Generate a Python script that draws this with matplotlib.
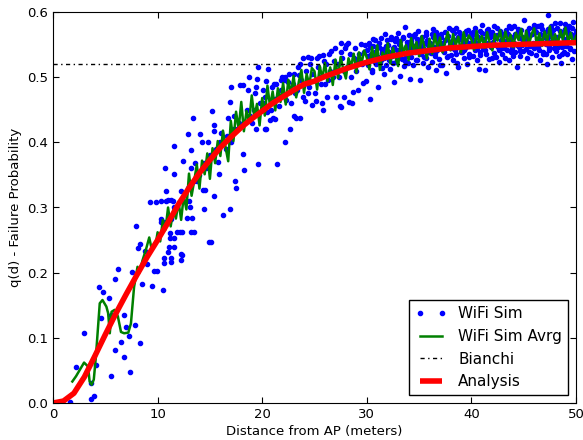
import matplotlib
matplotlib.use('Agg')
import matplotlib.pyplot as plt
import numpy as np

# WiFi simulation samples (distance, failure probability)
sim_d_near = [1.66, 2.2, 2.97, 3.64, 3.67, 3.96, 4.15, 4.44, 4.56, 4.76, 5.33, 5.55,
              5.75, 5.55, 5.94, 5.94, 6.2, 6.5, 6.74, 6.8, 6.99, 7.25, 7.34, 7.6,
              7.88, 7.98, 8.14, 8.27, 8.36, 8.5, 8.77, 9.0, 9.32, 9.45, 9.64, 9.8, 9.9]
sim_q_near = [0.002, 0.055, 0.108, 0.031, 0.006, 0.010, 0.058, 0.178, 0.131, 0.170, 0.161, 0.135,
              0.135, 0.041, 0.191, 0.081, 0.206, 0.094, 0.071, 0.135, 0.117, 0.103, 0.048, 0.201,
              0.119, 0.272, 0.238, 0.092, 0.244, 0.182, 0.234, 0.213, 0.309, 0.180, 0.203, 0.309, 0.203]

sim_d_b = [10.28, 10.3, 10.37, 10.5, 10.6, 10.6, 10.6, 10.75, 10.76, 10.8, 11.0, 11.0, 11.1, 11.17,
           11.2, 11.24, 11.3, 11.3, 11.3, 11.43, 11.56, 11.56, 11.56, 11.6, 11.6, 11.9, 12.1, 12.2,
           12.2, 12.2, 12.3, 12.3, 12.4, 12.6, 12.8, 12.87, 12.9, 13.0, 13.1, 13.2, 13.2, 13.2,
           13.3, 13.4, 13.44, 13.5, 13.6, 13.8, 14.0, 14.1, 14.2, 14.3, 14.4, 14.4, 14.5, 14.6,
           14.8, 14.94, 15.0, 15.1, 15.17, 15.4, 15.4, 15.4, 15.6, 15.8, 15.9, 16.0, 16.1, 16.3,
           16.5, 16.6, 16.7, 16.9, 16.9, 17.0, 17.05, 17.3, 17.3, 17.4, 17.45, 17.6, 17.8, 17.9,
           18.2, 18.2, 18.3, 18.3, 18.5, 18.6, 18.74, 18.8, 19.0, 19.2, 19.3, 19.4, 19.4, 19.5,
           19.6, 19.6, 19.8]
sim_q_b = [0.277, 0.282, 0.310, 0.173, 0.222, 0.215, 0.278, 0.360, 0.310, 0.326, 0.232, 0.312, 0.240, 0.253,
           0.261, 0.283, 0.312, 0.222, 0.216, 0.310, 0.300, 0.395, 0.351, 0.253, 0.239, 0.262, 0.262, 0.325,
           0.228, 0.220, 0.227, 0.262, 0.371, 0.320, 0.284, 0.413, 0.330, 0.310, 0.301, 0.360, 0.388, 0.262,
           0.284, 0.437, 0.262, 0.340, 0.368, 0.340, 0.350, 0.413, 0.400, 0.327, 0.368, 0.297, 0.327, 0.360,
           0.401, 0.247, 0.380, 0.247, 0.448, 0.426, 0.417, 0.318, 0.390, 0.370, 0.352, 0.400, 0.415, 0.289,
           0.390, 0.410, 0.437, 0.462, 0.298, 0.400, 0.485, 0.441, 0.420, 0.340, 0.330, 0.420, 0.430, 0.488,
           0.488, 0.382, 0.357, 0.430, 0.450, 0.480, 0.501, 0.440, 0.430, 0.450, 0.475, 0.485, 0.420, 0.497,
           0.516, 0.367, 0.460]

sim_d_mid = [20.1, 20.2, 20.3, 20.4, 20.4, 20.5, 20.6, 20.8, 21.0, 21.1, 21.2, 21.2, 21.4, 21.5,
             21.8, 21.8, 22.1, 22.2, 22.2, 22.2, 22.5, 22.7, 22.8, 23.0, 23.0, 23.2, 23.3, 23.5,
             23.6, 23.6, 23.9, 23.9, 24.0, 24.1, 24.4, 24.4, 24.6, 24.8, 24.8, 25.0, 25.1, 25.2,
             25.4, 25.5, 25.7, 25.8, 25.8, 26.0, 26.2, 26.4, 26.5, 26.8, 27.0, 27.1, 27.2, 27.4,
             27.5, 27.5, 27.5, 27.8, 27.8, 28.0, 28.2, 28.3, 28.5, 28.6, 28.7, 28.8, 29.0, 29.2,
             29.3, 29.4, 29.5, 29.6, 29.8, 29.9,
             20.3, 20.7, 20.9, 21.3, 21.6, 21.9, 22.3, 22.6, 22.9, 23.1, 23.4, 23.7, 24.2, 24.5,
             24.7, 25.3, 25.6, 25.9, 26.1, 26.3, 26.6, 26.9, 27.3, 27.6, 27.9, 28.1, 28.4, 28.9,
             29.1, 29.7]
sim_q_mid = [0.480, 0.460, 0.420, 0.494, 0.420, 0.446, 0.512, 0.450, 0.438, 0.489, 0.466, 0.436, 0.367, 0.470,
             0.496, 0.481, 0.473, 0.495, 0.400, 0.500, 0.493, 0.420, 0.460, 0.505, 0.441, 0.438, 0.480, 0.503,
             0.520, 0.437, 0.529, 0.469, 0.490, 0.464, 0.531, 0.476, 0.520, 0.457, 0.505, 0.476, 0.463, 0.530,
             0.532, 0.500, 0.461, 0.534, 0.449, 0.490, 0.469, 0.535, 0.510, 0.500, 0.545, 0.469, 0.520, 0.455,
             0.552, 0.538, 0.454, 0.469, 0.510, 0.549, 0.552, 0.462, 0.500, 0.461, 0.477, 0.530, 0.510, 0.481,
             0.535, 0.551, 0.520, 0.491, 0.550, 0.494,
             0.470, 0.435, 0.485, 0.490, 0.455, 0.500, 0.465, 0.505, 0.490, 0.475, 0.515, 0.495, 0.510, 0.485,
             0.530, 0.515, 0.490, 0.525, 0.520, 0.495, 0.540, 0.525, 0.500, 0.530, 0.545, 0.515, 0.535, 0.545,
             0.525, 0.538]

sim_d_far = [
    30.05, 30.12, 30.2, 30.28, 30.35, 30.41, 30.5, 30.58, 30.66, 30.74, 30.83, 30.91,
    31.03, 31.1, 31.2, 31.27, 31.33, 31.44, 31.5, 31.59, 31.67, 31.75, 31.86, 31.93,
    32.02, 32.1, 32.17, 32.26, 32.35, 32.42, 32.51, 32.6, 32.68, 32.77, 32.85, 32.94,
    33.04, 33.11, 33.2, 33.29, 33.37, 33.45, 33.52, 33.61, 33.7, 33.76, 33.85, 33.95,
    34.02, 34.09, 34.18, 34.27, 34.36, 34.43, 34.52, 34.6, 34.69, 34.77, 34.86, 34.93,
    35.05, 35.13, 35.2, 35.3, 35.38, 35.45, 35.55, 35.62, 35.7, 35.79, 35.88, 35.96,
    36.03, 36.1, 36.2, 36.27, 36.35, 36.44, 36.52, 36.6, 36.66, 36.75, 36.84, 36.92,
    37.02, 37.11, 37.18, 37.25, 37.34, 37.43, 37.5, 37.58, 37.66, 37.75, 37.83, 37.92,
    38.04, 38.12, 38.19, 38.28, 38.36, 38.44, 38.53, 38.61, 38.68, 38.76, 38.85, 38.94,
    39.02, 39.1, 39.19, 39.27, 39.35, 39.42, 39.51, 39.6, 39.68, 39.77, 39.84, 39.93,
    40.03, 40.11, 40.2, 40.29, 40.37, 40.45, 40.53, 40.6, 40.7, 40.78, 40.86, 40.95,
    41.02, 41.1, 41.18, 41.26, 41.35, 41.42, 41.5, 41.58, 41.67, 41.75, 41.84, 41.93,
    42.05, 42.12, 42.2, 42.28, 42.36, 42.45, 42.53, 42.61, 42.7, 42.78, 42.87, 42.94,
    43.02, 43.09, 43.18, 43.27, 43.34, 43.43, 43.51, 43.6, 43.68, 43.76, 43.85, 43.93,
    44.03, 44.11, 44.2, 44.28, 44.35, 44.43, 44.52, 44.6, 44.69, 44.77, 44.85, 44.94,
    45.02, 45.1, 45.18, 45.27, 45.35, 45.44, 45.52, 45.6, 45.69, 45.78, 45.86, 45.94,
    46.03, 46.11, 46.19, 46.27, 46.36, 46.45, 46.53, 46.6, 46.68, 46.77, 46.85, 46.93,
    47.02, 47.1, 47.19, 47.27, 47.35, 47.43, 47.5, 47.58, 47.67, 47.75, 47.84, 47.93,
    48.02, 48.1, 48.18, 48.27, 48.35, 48.43, 48.52, 48.6, 48.68, 48.76, 48.85, 48.94,
    49.03, 49.1, 49.18, 49.26, 49.35, 49.42, 49.5, 49.59, 49.67, 49.76, 49.84, 49.93]
sim_q_far = [
    0.541, 0.518, 0.552, 0.529, 0.467, 0.536, 0.511, 0.548, 0.525, 0.539, 0.557, 0.520,
    0.531, 0.485, 0.546, 0.522, 0.560, 0.537, 0.514, 0.543, 0.529, 0.566, 0.519, 0.540,
    0.549, 0.527, 0.538, 0.512, 0.562, 0.533, 0.545, 0.492, 0.555, 0.524, 0.541, 0.568,
    0.536, 0.551, 0.502, 0.543, 0.528, 0.560, 0.517, 0.577, 0.547, 0.533, 0.554, 0.522,
    0.544, 0.497, 0.556, 0.531, 0.549, 0.518, 0.565, 0.538, 0.527, 0.558, 0.542, 0.571,
    0.496, 0.548, 0.535, 0.562, 0.521, 0.553, 0.540, 0.569, 0.529, 0.557, 0.515, 0.545,
    0.552, 0.537, 0.566, 0.524, 0.574, 0.546, 0.533, 0.511, 0.558, 0.541, 0.563, 0.528,
    0.547, 0.561, 0.519, 0.553, 0.538, 0.570, 0.544, 0.506, 0.559, 0.532, 0.575, 0.549,
    0.534, 0.556, 0.572, 0.527, 0.550, 0.541, 0.575, 0.522, 0.561, 0.515, 0.546, 0.558,
    0.563, 0.539, 0.551, 0.529, 0.567, 0.545, 0.556, 0.520, 0.573, 0.536, 0.552, 0.561,
    0.548, 0.569, 0.533, 0.557, 0.542, 0.564, 0.526, 0.553, 0.513, 0.571, 0.539, 0.560,
    0.580, 0.544, 0.558, 0.511, 0.566, 0.535, 0.551, 0.574, 0.528, 0.562, 0.547, 0.569,
    0.554, 0.537, 0.579, 0.560, 0.531, 0.565, 0.546, 0.524, 0.571, 0.543, 0.557, 0.536,
    0.563, 0.548, 0.530, 0.572, 0.555, 0.541, 0.567, 0.527, 0.559, 0.576, 0.545, 0.533,
    0.578, 0.552, 0.538, 0.564, 0.516, 0.570, 0.546, 0.560, 0.532, 0.573, 0.549, 0.540,
    0.588, 0.556, 0.543, 0.568, 0.529, 0.562, 0.575, 0.548, 0.537, 0.566, 0.553, 0.580,
    0.545, 0.571, 0.534, 0.559, 0.578, 0.541, 0.566, 0.527, 0.553, 0.574, 0.539, 0.562,
    0.569, 0.536, 0.558, 0.520, 0.595, 0.547, 0.563, 0.578, 0.531, 0.555, 0.572, 0.544,
    0.557, 0.540, 0.576, 0.551, 0.533, 0.583, 0.522, 0.565, 0.546, 0.570, 0.538, 0.581,
    0.548, 0.573, 0.535, 0.561, 0.579, 0.543, 0.567, 0.528, 0.556, 0.585, 0.540, 0.565]

sim_d_far2 = [
    30.16, 30.33, 30.47, 30.62, 30.79, 30.97, 31.15, 31.31, 31.48, 31.63, 31.8, 31.97,
    32.14, 32.3, 32.46, 32.64, 32.81, 32.98, 33.16, 33.32, 33.49, 33.65, 33.82, 33.99,
    34.13, 34.31, 34.47, 34.64, 34.81, 34.97, 35.16, 35.34, 35.5, 35.66, 35.83, 35.99,
    36.15, 36.31, 36.48, 36.63, 36.8, 36.97, 37.14, 37.3, 37.46, 37.62, 37.79, 37.96,
    38.16, 38.32, 38.49, 38.65, 38.81, 38.98, 39.14, 39.31, 39.47, 39.64, 39.8, 39.97,
    40.15, 40.33, 40.49, 40.65, 40.82, 40.99, 41.14, 41.3, 41.46, 41.63, 41.8, 41.97,
    42.16, 42.32, 42.49, 42.66, 42.83, 42.99, 43.13, 43.3, 43.47, 43.64, 43.81, 43.98,
    44.15, 44.32, 44.48, 44.65, 44.81, 44.98, 45.14, 45.31, 45.48, 45.64, 45.82, 45.98,
    46.16, 46.32, 46.49, 46.64, 46.81, 46.98, 47.14, 47.31, 47.46, 47.63, 47.8, 47.97,
    48.15, 48.31, 48.48, 48.64, 48.81, 48.98, 49.14, 49.3, 49.47, 49.63, 49.8, 49.97]
sim_q_far2 = [
    0.533, 0.547, 0.508, 0.558, 0.531, 0.544, 0.552, 0.526, 0.541, 0.505, 0.548, 0.557,
    0.536, 0.558, 0.521, 0.547, 0.560, 0.531, 0.556, 0.539, 0.562, 0.525, 0.549, 0.565,
    0.535, 0.561, 0.545, 0.567, 0.526, 0.553, 0.559, 0.544, 0.531, 0.564, 0.550, 0.538,
    0.545, 0.561, 0.537, 0.569, 0.552, 0.519, 0.566, 0.542, 0.557, 0.531, 0.563, 0.554,
    0.545, 0.568, 0.536, 0.559, 0.570, 0.539, 0.557, 0.542, 0.571, 0.548, 0.531, 0.566,
    0.552, 0.575, 0.545, 0.562, 0.534, 0.568, 0.558, 0.541, 0.572, 0.552, 0.566, 0.530,
    0.563, 0.549, 0.575, 0.541, 0.568, 0.552, 0.544, 0.566, 0.552, 0.579, 0.538, 0.561,
    0.566, 0.549, 0.574, 0.540, 0.561, 0.555, 0.552, 0.571, 0.539, 0.564, 0.548, 0.576,
    0.569, 0.546, 0.558, 0.580, 0.535, 0.561, 0.551, 0.574, 0.541, 0.566, 0.556, 0.583,
    0.562, 0.547, 0.571, 0.536, 0.559, 0.574, 0.553, 0.568, 0.545, 0.576, 0.558, 0.571]

# averaged simulation curve
avg_d_near = [1.85, 2.2, 2.97, 3.35, 3.5, 3.7, 3.9, 4.1, 4.31, 4.47, 4.73, 5.1, 5.27, 5.43, 5.6,
              5.9, 6.2, 6.5, 6.8, 7.2, 7.45, 7.75, 8.08, 8.24, 8.56, 8.88, 9.2, 9.45, 9.83]
avg_q_near = [0.033, 0.041, 0.062, 0.056, 0.033, 0.028, 0.036, 0.071, 0.117, 0.153, 0.158, 0.148, 0.138, 0.107, 0.140,
              0.143, 0.133, 0.109, 0.107, 0.108, 0.122, 0.178, 0.209, 0.199, 0.219, 0.235, 0.254, 0.235, 0.245]
avg_q_far = [
    0.262, 0.248, 0.281, 0.266, 0.300, 0.271, 0.296, 0.283, 0.309, 0.281, 0.318, 0.297,
    0.352, 0.318, 0.341, 0.366, 0.329, 0.372, 0.351, 0.383, 0.344, 0.391, 0.368, 0.402,
    0.379, 0.418, 0.392, 0.371, 0.433, 0.402, 0.447, 0.421, 0.462, 0.417, 0.448, 0.431,
    0.472, 0.438, 0.459, 0.426, 0.468, 0.441, 0.487, 0.455, 0.478, 0.449, 0.483, 0.462,
    0.491, 0.458, 0.496, 0.474, 0.502, 0.469, 0.493, 0.511, 0.476, 0.505, 0.488, 0.514,
    0.509, 0.481, 0.517, 0.498, 0.522, 0.494, 0.515, 0.488, 0.527, 0.499, 0.531, 0.512,
    0.498, 0.529, 0.517, 0.536, 0.507, 0.538, 0.521, 0.541, 0.530, 0.512, 0.546, 0.524,
    0.549, 0.511, 0.538, 0.529, 0.552, 0.521, 0.545, 0.530, 0.517, 0.557, 0.538, 0.549,
    0.526, 0.560, 0.541, 0.554, 0.532, 0.563, 0.547, 0.529, 0.559, 0.536, 0.566, 0.545,
    0.561, 0.538, 0.555, 0.569, 0.541, 0.566, 0.549, 0.562, 0.538, 0.569, 0.552, 0.564,
    0.558, 0.542, 0.571, 0.550, 0.563, 0.545, 0.569, 0.553, 0.541, 0.566, 0.556, 0.572,
    0.548, 0.570, 0.554, 0.565, 0.546, 0.568, 0.557, 0.574, 0.551, 0.571, 0.549, 0.566,
    0.575, 0.552, 0.567, 0.548, 0.570, 0.555, 0.578, 0.553, 0.566, 0.549, 0.572, 0.557,
    0.576, 0.554, 0.568, 0.551, 0.563]
avg_d_far = np.linspace(10, 50, len(avg_q_far))

# analytical model
ana_d = [0, 1, 2, 3, 4, 5, 6, 7, 8, 9, 10, 11, 12, 13, 14, 15, 16, 17, 18, 19, 20,
         21, 22, 23, 24, 25, 26, 27, 28, 29, 30, 32, 34, 36, 38, 40, 42, 44, 46, 48, 50]
ana_q = [0.0, 0.003, 0.015, 0.04, 0.072, 0.105, 0.137, 0.167, 0.196, 0.224, 0.25,
         0.277, 0.305, 0.33, 0.353, 0.373, 0.392, 0.408, 0.423, 0.436, 0.448,
         0.46, 0.47, 0.48, 0.489, 0.494, 0.501, 0.507, 0.513, 0.518, 0.523,
         0.531, 0.537, 0.541, 0.545, 0.547, 0.549, 0.55, 0.551, 0.552, 0.553]

bianchi_q = 0.52

sim_d = sim_d_near + sim_d_b + sim_d_mid + sim_d_far + sim_d_far2
sim_q = sim_q_near + sim_q_b + sim_q_mid + sim_q_far + sim_q_far2
avg_d = list(avg_d_near) + list(avg_d_far)
avg_q = avg_q_near + avg_q_far

plt.rcParams['xtick.direction'] = 'in'
plt.rcParams['ytick.direction'] = 'in'
plt.rcParams['xtick.top'] = True
plt.rcParams['ytick.right'] = True
plt.rcParams['font.size'] = 9

fig = plt.figure(figsize=(5.83, 4.40), dpi=100, facecolor='white')
ax = fig.add_axes([53/583, 37/440, 523/583, 391/440])

ax.plot(sim_d, sim_q, 'b.', markersize=6, label='WiFi Sim')
ax.plot(avg_d, avg_q, color=(0, 0.5, 0), lw=1.8, label='WiFi Sim Avrg')
ax.plot([0, 50], [bianchi_q, bianchi_q], 'k-.', lw=1, dashes=(3, 2.5, 1, 2.5), label='Bianchi')
ax.plot(ana_d, ana_q, 'r-', lw=4, solid_capstyle='butt', label='Analysis')

ax.set_xlim(0, 50)
ax.set_ylim(0, 0.6)
ax.set_xticks([0, 10, 20, 30, 40, 50])
ax.set_yticks([0.0, 0.1, 0.2, 0.3, 0.4, 0.5, 0.6])
ax.set_yticklabels(['0.0', '0.1', '0.2', '0.3', '0.4', '0.5', '0.6'])
ax.tick_params(length=4, width=0.8, labelsize=9.5)
ax.set_xlabel('Distance from AP (meters)', fontsize=9.5, labelpad=3)
ax.set_ylabel('q(d) - Failure Probability', fontsize=9.5)

leg = ax.legend(loc='lower right', fontsize=11, numpoints=2, fancybox=False,
                framealpha=1, edgecolor='black', borderaxespad=0.5)
leg.get_frame().set_linewidth(1)

fig.savefig('out.png', dpi=100, facecolor='white')
